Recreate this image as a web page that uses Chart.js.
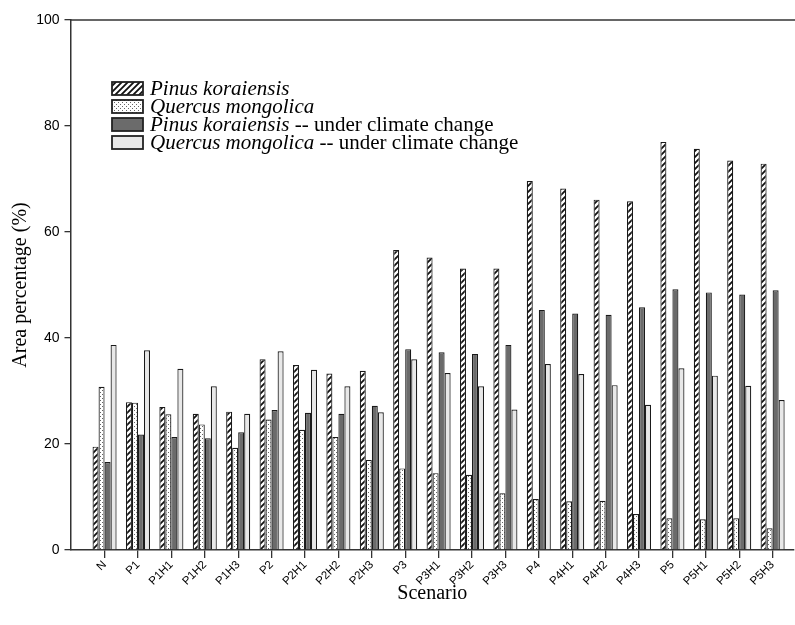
<!DOCTYPE html>
<html>
<head>
<meta charset="utf-8">
<script src="https://cdn.jsdelivr.net/npm/chart.js@4.4.1/dist/chart.umd.min.js"></script>
<style>
  html, body { margin: 0; padding: 0; background: #fff; overflow: hidden; }
  #wrap { width: 795px; height: 625px; position: relative; }
</style>
</head>
<body>
<div id="wrap"><canvas id="c" width="795" height="625"></canvas></div>
<script>
// ---- Data ----
const categories = ["N","P1","P1H1","P1H2","P1H3","P2","P2H1","P2H2","P2H3","P3","P3H1","P3H2","P3H3","P4","P4H1","P4H2","P4H3","P5","P5H1","P5H2","P5H3"];
const pinusKoraiensis  = [19.5, 27.9, 27.0, 25.7, 26.1, 36.0, 34.9, 33.3, 33.8, 56.6, 55.2, 53.1, 53.1, 69.6, 68.2, 66.1, 65.8, 77.0, 75.7, 73.5, 72.9];
const quercusMongolica = [30.8, 27.8, 25.6, 23.7, 19.3, 24.6, 22.7, 21.3, 17.0, 15.4, 14.5, 14.2, 10.7, 9.6, 9.2, 9.3, 6.8, 6.0, 5.8, 6.0, 4.1];
const pinusClimate     = [16.6, 21.8, 21.3, 21.1, 22.2, 26.4, 25.9, 25.7, 27.2, 37.9, 37.3, 37.0, 38.7, 45.3, 44.6, 44.4, 45.8, 49.2, 48.6, 48.2, 49.0];
const quercusClimate   = [38.7, 37.7, 34.2, 30.9, 25.7, 37.5, 34.0, 30.9, 26.0, 36.0, 33.4, 30.9, 26.5, 35.1, 33.2, 31.1, 27.4, 34.3, 32.9, 31.0, 28.3];
const seriesSpecies = ["Pinus koraiensis", "Quercus mongolica", "Pinus koraiensis", "Quercus mongolica"];
const seriesSuffix  = ["", "", " -- under climate change", " -- under climate change"];
const yTicks = [0, 20, 40, 60, 80, 100];
const xTitle = "Scenario";
const yTitle = "Area percentage (%)";

// ---- Fill patterns ----
function hatchPattern() {
  const s = 6, cv = document.createElement('canvas');
  cv.width = s; cv.height = s;
  const g = cv.getContext('2d');
  g.fillStyle = '#fff'; g.fillRect(0, 0, s, s);
  g.strokeStyle = '#111'; g.lineWidth = 1.8;
  g.beginPath();
  g.moveTo(-1, s + 1); g.lineTo(s + 1, -1);
  g.moveTo(-1, 1); g.lineTo(1, -1);
  g.moveTo(s - 1, s + 1); g.lineTo(s + 1, s - 1);
  g.stroke();
  return g.createPattern(cv, 'repeat');
}
function dotPattern() {
  const s = 4, cv = document.createElement('canvas');
  cv.width = s; cv.height = s;
  const g = cv.getContext('2d');
  g.fillStyle = '#fff'; g.fillRect(0, 0, s, s);
  g.fillStyle = '#666';
  g.fillRect(0, 0, 1, 1);
  g.fillRect(2, 2, 1, 1);
  return g.createPattern(cv, 'repeat');
}
const ctx = document.getElementById('c').getContext('2d');
const fills = [hatchPattern(), dotPattern(), '#6b6b6b', '#e8e8e8'];
const seriesValues = [pinusKoraiensis, quercusMongolica, pinusClimate, quercusClimate];

const datasets = seriesValues.map((vals, k) => ({
  label: seriesSpecies[k] + seriesSuffix[k],
  data: vals.map((v, i) => ({ x: i, y: v })),
  backgroundColor: fills[k],
  borderColor: '#1a1a1a',
  borderWidth: 1.2,
  categoryPercentage: 0.72,
  barPercentage: 1.0
}));

// ---- Custom legend + top frame line ----
const legendPlugin = {
  id: 'customLegend',
  afterDraw(chart) {
    const g = chart.ctx;
    const ca = chart.chartArea;
    g.save();
    g.strokeStyle = '#333'; g.lineWidth = 1.5;
    g.beginPath(); g.moveTo(ca.left, ca.top); g.lineTo(chart.width, ca.top); g.stroke();
    const x0 = 112, rowsY = [82, 100, 118, 136], sw = 31, sh = 13;
    chart.data.datasets.forEach((ds, k) => {
      const y = rowsY[k];
      g.fillStyle = ds.backgroundColor;
      g.fillRect(x0, y, sw, sh);
      g.strokeStyle = '#222'; g.lineWidth = 1.8;
      g.strokeRect(x0, y, sw, sh);
      g.fillStyle = '#000';
      g.textBaseline = 'middle';
      g.textAlign = 'left';
      g.font = 'italic 21px "Liberation Serif"';
      const tx = x0 + 38, ty = y + sh / 2 + 1;
      g.fillText(seriesSpecies[k], tx, ty);
      const w = g.measureText(seriesSpecies[k]).width;
      if (seriesSuffix[k]) {
        g.font = '21px "Liberation Serif"';
        g.fillText(seriesSuffix[k], tx + w, ty);
      }
    });
    g.restore();
  }
};

new Chart(ctx, {
  type: 'bar',
  data: { datasets },
  options: {
    responsive: false,
    animation: false,
    layout: { padding: { top: 20, right: 1, bottom: 19, left: 0 } },
    plugins: { legend: { display: false }, tooltip: { enabled: false } },
    scales: {
      x: {
        type: 'linear',
        offset: false,
        min: -1.02,
        max: 20.64,
        afterBuildTicks: (scale) => { scale.ticks = categories.map((c, i) => ({ value: i })); },
        afterFit: (scale) => { scale.height = 56; },
        ticks: {
          autoSkip: false,
          minRotation: 45,
          maxRotation: 45,
          padding: 0,
          color: '#000',
          font: { family: '"Liberation Sans"', size: 11.5 },
          callback: (v) => categories[v] ?? ''
        },
        grid: { offset: false, drawOnChartArea: false, drawTicks: true, tickLength: 8, color: '#333', lineWidth: 1.3 },
        border: { display: true, color: '#333', width: 1.5 },
        title: { display: true, text: xTitle, color: '#000', font: { family: '"Liberation Serif"', size: 20 }, padding: { top: 0, bottom: 0 } }
      },
      y: {
        min: 0,
        max: 100,
        afterBuildTicks: (scale) => { scale.ticks = yTicks.map(v => ({ value: v })); },
        afterFit: (scale) => { scale.width = 70.5; },
        ticks: { color: '#000', padding: 5, font: { family: '"Liberation Sans"', size: 14 } },
        grid: { drawOnChartArea: false, drawTicks: true, tickLength: 6, color: '#333', lineWidth: 1.3 },
        border: { display: true, color: '#333', width: 1.5 },
        title: { display: true, text: yTitle, color: '#000', font: { family: '"Liberation Serif"', size: 20 }, padding: { top: 9, bottom: 0 } }
      }
    }
  },
  plugins: [legendPlugin]
});
</script>
</body>
</html>
